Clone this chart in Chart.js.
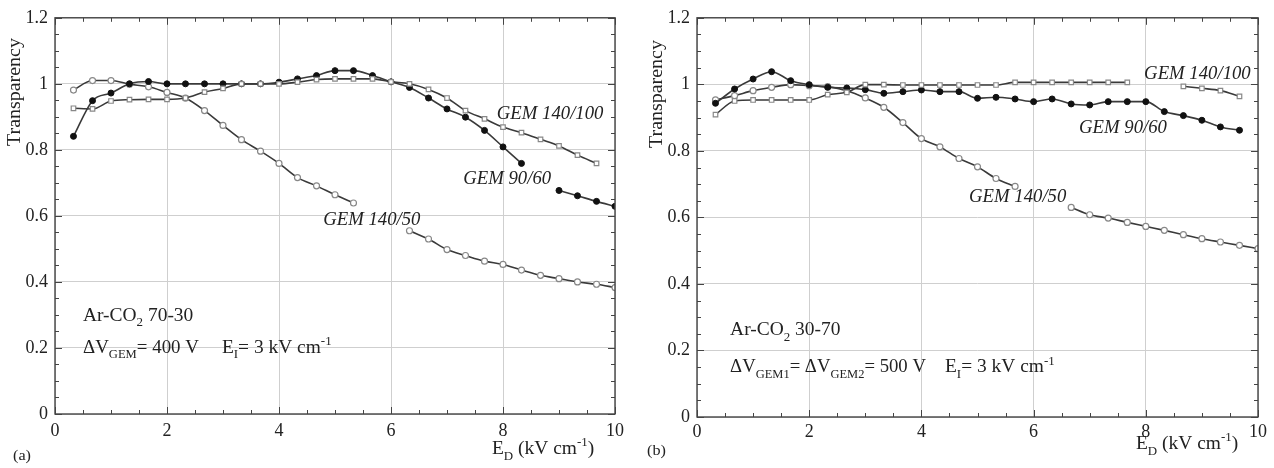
<!DOCTYPE html>
<html><head><meta charset="utf-8">
<script src="https://cdn.jsdelivr.net/npm/chart.js@4.4.1/dist/chart.umd.min.js"></script>
<style>
body{margin:0;background:#fff;width:1274px;height:468px;overflow:hidden;position:relative}
canvas{position:absolute;top:0}
</style></head>
<body>
<canvas id="ca" width="637" height="468" style="left:0px"></canvas>
<canvas id="cb" width="644" height="468" style="left:630px"></canvas>
<script>
// ---- data ----
const xValues = [0.33,0.67,1.0,1.33,1.67,2.0,2.33,2.67,3.0,3.33,3.67,4.0,4.33,4.67,5.0,5.33,5.67,6.0,6.33,6.67,7.0,7.33,7.67,8.0,8.33,8.67,9.0,9.33,9.67,10.0];
const xTickValues = [0,2,4,6,8,10];
const yTickLabels = ['0','0.2','0.4','0.6','0.8','1','1.2'];
const seriesNames = ['GEM 140/100','GEM 90/60','GEM 140/50'];

// panel (a): Ar-CO2 70-30
const a_gem140_100 = [0.926,0.924,0.948,0.952,0.953,0.953,0.957,0.975,0.986,1.0,1.0,1.0,1.005,1.013,1.015,1.015,1.015,1.006,1.0,0.983,0.957,0.919,0.894,0.869,0.852,0.832,0.812,0.784,0.759,null];
const a_gem90_60  = [0.841,0.949,0.972,1.0,1.007,1.0,1.0,1.0,1.0,1.0,1.0,1.005,1.015,1.025,1.04,1.04,1.025,1.006,0.989,0.957,0.924,0.899,0.859,0.809,0.759,null,0.677,0.661,0.644,0.629];
const a_gem140_50 = [0.981,1.01,1.01,0.999,0.991,0.974,0.957,0.919,0.874,0.831,0.796,0.759,0.716,0.691,0.664,0.639,null,null,0.555,0.530,0.498,0.480,0.463,0.453,0.436,0.420,0.410,0.400,0.393,0.383];

// panel (b): Ar-CO2 30-70
const b_gem140_100 = [0.909,0.950,0.953,0.953,0.953,0.953,0.969,0.976,0.999,0.999,0.998,0.998,0.998,0.998,0.998,0.998,1.006,1.006,1.006,1.006,1.006,1.006,1.006,null,null,0.994,0.988,0.981,0.964,null];
const b_gem90_60  = [0.943,0.986,1.016,1.038,1.011,0.999,0.991,0.989,0.984,0.973,0.978,0.983,0.978,0.978,0.958,0.961,0.956,0.948,0.956,0.941,0.938,0.948,0.948,0.948,0.918,0.906,0.892,0.872,0.862,null];
const b_gem140_50 = [0.953,0.966,0.981,0.991,0.999,0.996,0.993,0.981,0.959,0.931,0.885,0.837,0.812,0.777,0.752,0.717,0.693,null,null,0.630,0.608,0.598,0.585,0.573,0.561,0.548,0.536,0.526,0.516,0.506];

// ---- styling ----
const SERIF = '"Liberation Serif", "Times New Roman", serif';
const LINE = '#3a3a3a';
function pts(arr){ return xValues.map((x,i)=>({x:x, y:arr[i]})); }
function makeDatasets(s100, s90, s50){
  return [
    {label:seriesNames[0], data:pts(s100), pointStyle:'rect', pointRadius:3.2, pointBackgroundColor:'#fff', pointBorderColor:'#888', pointBorderWidth:1.2},
    {label:seriesNames[1], data:pts(s90), pointStyle:'circle', pointRadius:3, pointBackgroundColor:'#111', pointBorderColor:'#111', pointBorderWidth:1},
    {label:seriesNames[2], data:pts(s50), pointStyle:'circle', pointRadius:3, pointBackgroundColor:'#fff', pointBorderColor:'#888', pointBorderWidth:1.2}
  ].map(d=>Object.assign(d,{borderColor:LINE, borderWidth:1.6, fill:false, spanGaps:false, cubicInterpolationMode:'monotone'}));
}

function drawRich(ctx, x, y, segs, size, stretch){
  ctx.save();
  ctx.translate(x, y);
  ctx.scale(stretch || 1.08, 1);
  let cx = 0;
  for (const s of segs){
    const small = s.s ? Math.round(size*0.66) : size;
    ctx.font = (s.i ? 'italic ' : '') + small + 'px ' + SERIF;
    const dy = s.s === 'sub' ? size*0.32 : (s.s === 'sup' ? -size*0.42 : 0);
    ctx.fillText(s.t, cx, dy);
    cx += ctx.measureText(s.t).width;
  }
  ctx.restore();
}

const framePlugin = {
  id:'frame',
  afterDraw(chart, args, opts){
    const ctx = chart.ctx, a = chart.chartArea;
    const xs = chart.scales.x, ys = chart.scales.y;
    ctx.save();
    ctx.strokeStyle = '#444'; ctx.lineWidth = 1;
    ctx.beginPath();
    for (let v = 0; v <= 10.0001; v += 0.5){
      const px = Math.round(xs.getPixelForValue(v)) + 0.5;
      const L = (Math.abs(v - Math.round(v/2)*2) < 1e-6) ? 7 : 4;
      ctx.moveTo(px, a.bottom); ctx.lineTo(px, a.bottom - L);
      ctx.moveTo(px, a.top); ctx.lineTo(px, a.top + L);
    }
    for (let k = 0; k <= 24; k++){
      const v = k*0.05;
      const py = Math.round(ys.getPixelForValue(v)) + 0.5;
      const L = (k % 4 === 0) ? 7 : 4;
      ctx.moveTo(a.left, py); ctx.lineTo(a.left + L, py);
      ctx.moveTo(a.right, py); ctx.lineTo(a.right - L, py);
    }
    ctx.stroke();
    ctx.lineWidth = 1.4;
    ctx.strokeRect(a.left, a.top, a.right - a.left, a.bottom - a.top);
    ctx.fillStyle = '#222';
    ctx.textBaseline = 'alphabetic'; ctx.textAlign = 'left';
    for (const t of opts.texts){
      drawRich(ctx, xs.getPixelForValue(t.x), ys.getPixelForValue(t.y), t.segs, t.size, t.st);
    }
    for (const t of opts.pixTexts){
      drawRich(ctx, t.px, t.py, t.segs, t.size, t.st);
    }
    ctx.font = '19px ' + SERIF;
    ctx.textAlign = 'center'; ctx.textBaseline = 'middle';
    ctx.translate(opts.yTitle[0], opts.yTitle[1]);
    ctx.rotate(-Math.PI/2);
    ctx.scale(1.05, 1);
    ctx.fillText('Transparency', 0, 0);
    ctx.restore();
  }
};

function makeChart(id, datasets, pad, yWidth, xHeight, xPad, texts, pixTexts, yTitle){
  return new Chart(document.getElementById(id), {
    type:'line',
    data:{datasets},
    options:{
      responsive:false, animation:false, devicePixelRatio:1,
      layout:{padding:pad},
      plugins:{legend:{display:false}, tooltip:{enabled:false},
        frame:{texts, pixTexts, yTitle}},
      scales:{
        x:{type:'linear', min:0, max:10,
          afterBuildTicks(s){ s.ticks = xTickValues.map(v=>({value:v})); },
          afterFit(s){ s.height = xHeight; },
          grid:{color:'#cfcfcf', lineWidth:1, drawTicks:false},
          border:{display:false},
          ticks:{padding:xPad, color:'#222', font:{family:SERIF, size:18}, maxRotation:0,
            callback:(v)=>String(v)}},
        y:{type:'linear', min:0, max:1.2,
          afterBuildTicks(s){ s.ticks = yTickLabels.map(l=>({value:parseFloat(l)})); },
          afterFit(s){ s.width = yWidth; },
          grid:{color:'#cfcfcf', lineWidth:1, drawTicks:false},
          border:{display:false},
          ticks:{padding:7, color:'#222', font:{family:SERIF, size:18},
            callback:(v)=>{ const l = yTickLabels.find(t=>Math.abs(parseFloat(t)-v)<1e-6); return l===undefined?'':l; }}}
      }
    },
    plugins:[framePlugin]
  });
}

const it = (t)=>({t, i:true});
const axisTitle = [{t:'E'},{t:'D',s:'sub'},{t:' (kV cm'},{t:'-1',s:'sup'},{t:')'}];

makeChart('ca', makeDatasets(a_gem140_100, a_gem90_60, a_gem140_50),
  {left:0, top:15, right:22, bottom:0}, 55, 54, 6,
  [
    {x:7.89, y:0.893, size:18, st:1.04, segs:[it('GEM 140/100')]},
    {x:7.29, y:0.698, size:18, st:1.04, segs:[it('GEM 90/60')]},
    {x:4.79, y:0.571, size:18, st:1.04, segs:[it('GEM 140/50')]},
    {x:0.5, y:0.283, size:18, segs:[{t:'Ar-CO'},{t:'2',s:'sub'},{t:' 70-30'}]},
    {x:0.5, y:0.186, size:18, st:1.05, segs:[{t:'\u0394V'},{t:'GEM',s:'sub'},{t:'= 400 V'}]},
    {x:2.98, y:0.186, size:18, segs:[{t:'E'},{t:'I',s:'sub'},{t:'= 3 kV cm'},{t:'-1',s:'sup'}]}
  ],
  [
    {px:13, py:460, size:15, segs:[{t:'(a)'}]},
    {px:492, py:454, size:18, segs:axisTitle}
  ],
  [15, 92]);

makeChart('cb', makeDatasets(b_gem140_100, b_gem90_60, b_gem140_50),
  {left:12, top:16, right:16, bottom:0}, 55, 51, 4,
  [
    {x:7.97, y:1.015, size:18, st:1.04, segs:[it('GEM 140/100')]},
    {x:6.81, y:0.854, size:18, st:1.04, segs:[it('GEM 90/60')]},
    {x:4.85, y:0.645, size:18, st:1.04, segs:[it('GEM 140/50')]},
    {x:0.59, y:0.245, size:18, segs:[{t:'Ar-CO'},{t:'2',s:'sub'},{t:' 30-70'}]},
    {x:0.59, y:0.134, size:18, st:1.04, segs:[{t:'\u0394V'},{t:'GEM1',s:'sub'},{t:'= \u0394V'},{t:'GEM2',s:'sub'},{t:'= 500 V'}]},
    {x:4.42, y:0.134, size:18, segs:[{t:'E'},{t:'I',s:'sub'},{t:'= 3 kV cm'},{t:'-1',s:'sup'}]}
  ],
  [
    {px:17, py:455, size:15, segs:[{t:'(b)'}]},
    {px:506, py:449, size:18, segs:axisTitle}
  ],
  [27, 94]);
</script>
</body></html>
